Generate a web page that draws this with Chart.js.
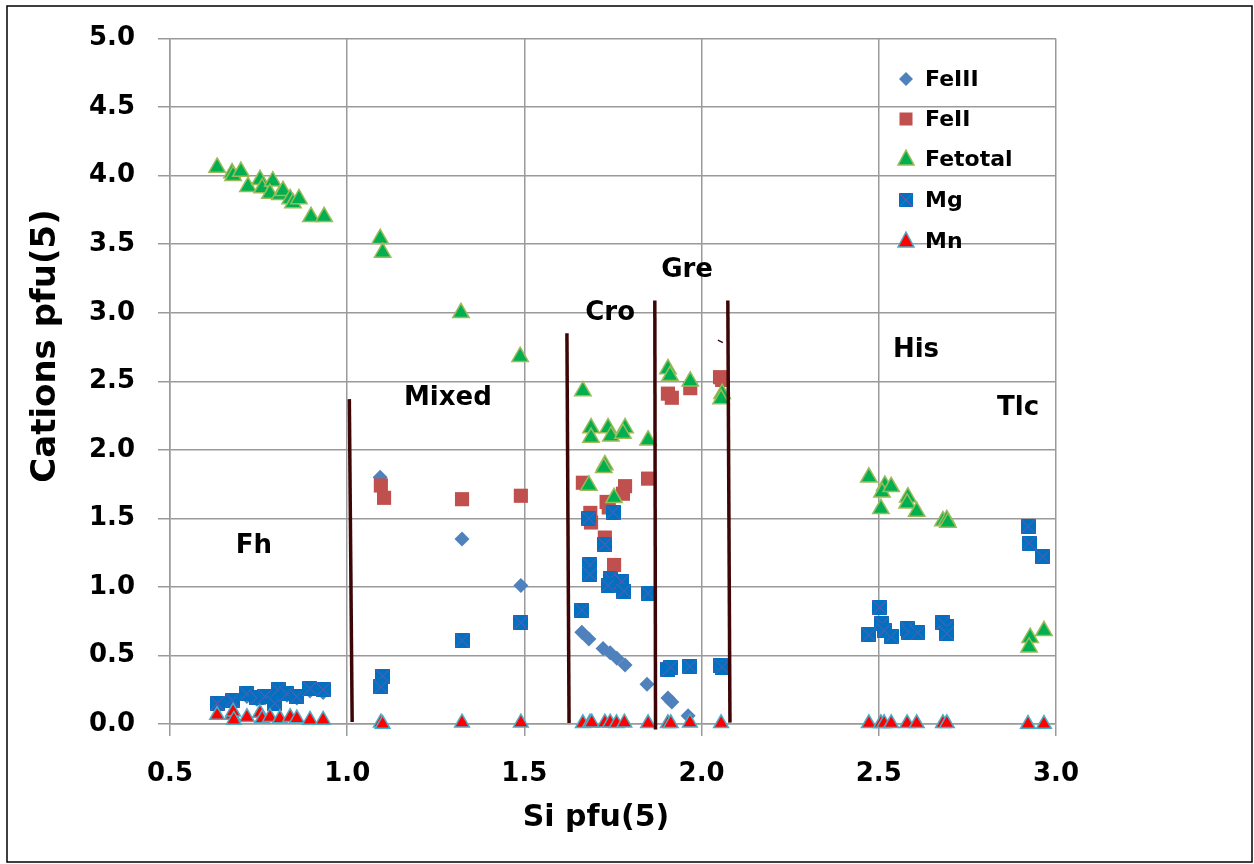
<!DOCTYPE html>
<html>
<head>
<meta charset="utf-8">
<script src="https://cdn.jsdelivr.net/npm/chart.js@4.4.1/dist/chart.umd.min.js"></script>
<style>
  html, body { margin: 0; padding: 0; background: #fff; }
</style>
</head>
<body>
<canvas id="grafico" width="1254" height="864"></canvas>
<script>
// datos (Si pfu en x, cationes pfu en y)
const feIIIx = [0.633, 0.675, 0.717, 0.745, 0.768, 0.805, 0.83, 0.858, 0.895, 0.932,
  1.093, 1.324, 1.49,
  1.662, 1.682, 1.722, 1.742, 1.761, 1.784, 1.846,
  1.905, 1.916, 1.962];
const feIIIy = [0.14, 0.16, 0.2, 0.18, 0.19, 0.22, 0.21, 0.19, 0.24, 0.23,
  1.8, 1.35, 1.01,
  0.67, 0.62, 0.55, 0.52, 0.48, 0.43, 0.29,
  0.19, 0.16, 0.06];

const feIIx = [1.095, 1.104, 1.324, 1.49,
  1.665, 1.686, 1.688, 1.727, 1.732, 1.738, 1.753, 1.778, 1.784, 1.849,
  1.905, 1.916, 1.968, 2.052, 2.058];
const feIIy = [1.74, 1.65, 1.64, 1.665,
  1.76, 1.54, 1.47, 1.36, 1.62, 1.58, 1.16, 1.68, 1.735, 1.79,
  2.41, 2.38, 2.45, 2.53, 2.51];

const feTotx = [0.633, 0.675, 0.678, 0.7, 0.72, 0.754, 0.76, 0.79, 0.782, 0.81, 0.819, 0.839, 0.847, 0.864, 0.898, 0.935,
  1.093, 1.1, 1.321, 1.488,
  1.665, 1.688, 1.688, 1.736, 1.744, 1.784, 1.778, 1.849, 1.727, 1.724, 1.682, 1.753,
  1.905, 1.911, 1.968, 2.058, 2.055,
  2.472, 2.517, 2.509, 2.535, 2.506, 2.582, 2.58, 2.607, 2.681, 2.692, 2.695,
  2.927, 2.924, 2.966];
const feToty = [4.06, 4.02, 4.0, 4.03, 3.92, 3.97, 3.91, 3.96, 3.87, 3.86, 3.89, 3.83, 3.8, 3.83, 3.7, 3.7,
  3.54, 3.44, 3.0, 2.68,
  2.43, 2.16, 2.09, 2.16, 2.1, 2.16, 2.12, 2.07, 1.89, 1.87, 1.74, 1.65,
  2.59, 2.54, 2.5, 2.41, 2.37,
  1.8, 1.74, 1.69, 1.73, 1.57, 1.655, 1.61, 1.55, 1.48, 1.49, 1.47,
  0.63, 0.56, 0.68];

const mgx = [0.633, 0.675, 0.717, 0.745, 0.768, 0.796, 0.805, 0.83, 0.858, 0.895, 0.932,
  1.1, 1.095, 1.324, 1.49,
  1.682, 1.75, 1.727, 1.685, 1.685, 1.742, 1.736, 1.775, 1.781, 1.849, 1.662,
  1.905, 1.913, 1.967, 2.052, 2.058,
  2.503, 2.509, 2.472, 2.535, 2.515, 2.58, 2.585, 2.61, 2.681, 2.692, 2.692,
  2.921, 2.924, 2.963];
const mgy = [0.15, 0.175, 0.22, 0.19, 0.2, 0.15, 0.25, 0.22, 0.2, 0.26, 0.25,
  0.35, 0.27, 0.61, 0.74,
  1.5, 1.545, 1.31, 1.16, 1.09, 1.06, 1.01, 1.04, 0.97, 0.955, 0.83,
  0.4, 0.415, 0.42, 0.43, 0.415,
  0.85, 0.73, 0.65, 0.64, 0.68, 0.7, 0.67, 0.665, 0.74, 0.71, 0.66,
  1.44, 1.32, 1.22];

const mnx = [0.633, 0.675, 0.678, 0.68, 0.717, 0.754, 0.76, 0.782, 0.81, 0.839, 0.858, 0.895, 0.932,
  1.095, 1.1, 1.324, 1.49,
  1.665, 1.685, 1.69, 1.727, 1.742, 1.76, 1.782, 1.849,
  1.905, 1.913, 1.967, 2.055,
  2.472, 2.506, 2.515, 2.535, 2.58, 2.607, 2.681, 2.692,
  2.921, 2.966];
const mny = [0.065, 0.065, 0.09, 0.03, 0.05, 0.08, 0.04, 0.05, 0.04, 0.05, 0.04, 0.03, 0.03,
  0.01, 0.0, 0.01, 0.01,
  0.005, 0.01, 0.01, 0.01, 0.01, 0.005, 0.01, 0.005,
  0.005, 0.005, 0.01, 0.005,
  0.005, 0.005, 0.005, 0.005, 0.005, 0.005, 0.005, 0.005,
  0.0, 0.0];

// líneas que separan las zonas
const limTopX = [1.006, 1.62, 1.868, 2.074];
const limTopY = [2.37, 2.85, 3.09, 3.09];
const limBotX = [1.014, 1.626, 1.87, 2.08];
const limBotY = [0.015, 0.007, -0.04, 0.01];
// trazo pequeño junto a Gre
const trazoX = [2.046, 2.06];
const trazoY = [2.8, 2.782];

// etiquetas de zona
const zonas = ["Fh", "Mixed", "Cro", "Gre", "His", "Tlc"];
const zonaX = [0.737, 1.284, 1.742, 1.959, 2.605, 2.893];
const zonaY = [1.3, 2.376, 3.0, 3.31, 2.726, 2.303];

const xTicks = [0.5, 1.0, 1.5, 2.0, 2.5, 3.0];
const yTicks = [0, 0.5, 1, 1.5, 2, 2.5, 3, 3.5, 4, 4.5, 5];

const serieNombres = ["FeIII", "FeII", "Fetotal", "Mg", "Mn"];

function pares(xs, ys) {
  return xs.map((x, i) => ({ x: x, y: ys[i] }));
}

function marcadorMg(lado) {
  const c = document.createElement("canvas");
  c.width = lado;
  c.height = lado;
  const g = c.getContext("2d");
  g.fillStyle = "#0070C0";
  g.fillRect(0, 0, lado, lado);
  g.strokeStyle = "#7B55AE";
  g.lineWidth = 1;
  g.beginPath();
  g.moveTo(0, 0);
  g.lineTo(lado, lado);
  g.moveTo(lado, 0);
  g.lineTo(0, lado);
  g.stroke();
  return c;
}
const mgImg = marcadorMg(15);
const mgImgLeyenda = marcadorMg(14);

const fuente = "'DejaVu Sans'";

const extras = {
  id: "extras",
  afterDraw(chart) {
    const ctx = chart.ctx;
    const sx = chart.scales.x;
    const sy = chart.scales.y;
    ctx.save();
    ctx.fillStyle = "#000";
    ctx.textAlign = "center";
    ctx.textBaseline = "middle";
    ctx.font = "bold 26px " + fuente;
    zonas.forEach((z, i) => {
      ctx.fillText(z, sx.getPixelForValue(zonaX[i]), sy.getPixelForValue(zonaY[i]));
    });

    // títulos de los ejes
    ctx.font = "bold 30px " + fuente;
    ctx.fillText("Si pfu(5)", 596, 818);
    ctx.save();
    ctx.translate(46, 346);
    ctx.rotate(-Math.PI / 2);
    ctx.font = "bold 34px " + fuente;
    ctx.fillText("Cations pfu(5)", 0, 0);
    ctx.restore();

    // leyenda
    const filas = [79, 119, 159, 200, 241];
    const mx = 906;
    ctx.font = "bold 22px " + fuente;
    ctx.textAlign = "left";
    filas.forEach((fy, i) => {
      ctx.beginPath();
      if (i === 0) {
        ctx.fillStyle = "#4F81BD";
        ctx.moveTo(mx - 7, fy); ctx.lineTo(mx, fy - 7); ctx.lineTo(mx + 7, fy); ctx.lineTo(mx, fy + 7);
        ctx.closePath(); ctx.fill();
      } else if (i === 1) {
        ctx.fillStyle = "#C0504D";
        ctx.fillRect(mx - 6.5, fy - 6.5, 13, 13);
      } else if (i === 2 || i === 4) {
        ctx.fillStyle = i === 2 ? "#00B050" : "#FF0000";
        ctx.strokeStyle = i === 2 ? "#9BBB59" : "#4BACC6";
        ctx.lineWidth = 1.5;
        ctx.moveTo(mx, fy - 9); ctx.lineTo(mx + 8, fy + 6); ctx.lineTo(mx - 8, fy + 6);
        ctx.closePath(); ctx.fill(); ctx.stroke();
      } else {
        ctx.drawImage(mgImgLeyenda, mx - 7, fy - 7);
      }
      ctx.fillStyle = "#000";
      ctx.fillText(serieNombres[i], 925, fy + 1);
    });

    // marco exterior
    ctx.strokeStyle = "#000";
    ctx.lineWidth = 1.5;
    ctx.strokeRect(7, 6, 1245, 856);
    ctx.restore();
  },
};

const lineas = limTopX.map((x, i) => ({
  data: [{ x: x, y: limTopY[i] }, { x: limBotX[i], y: limBotY[i] }],
  showLine: true,
  pointRadius: 0,
  borderColor: "#3D0606",
  borderWidth: 3.5,
  clip: false,
  order: 0,
}));
lineas.push({
  data: pares(trazoX, trazoY),
  showLine: true,
  pointRadius: 0,
  borderColor: "#3D0606",
  borderWidth: 1.3,
  order: 0,
});

const ctx = document.getElementById("grafico").getContext("2d");
new Chart(ctx, {
  type: "scatter",
  data: {
    datasets: [
      {
        label: "FeIII",
        data: pares(feIIIx, feIIIy),
        pointStyle: "rectRot",
        pointRadius: 7.5,
        backgroundColor: "#4F81BD",
        borderColor: "#4F81BD",
        borderWidth: 0,
        clip: false,
        order: 5,
      },
      {
        label: "FeII",
        data: pares(feIIx, feIIy),
        pointStyle: "rect",
        pointRadius: 10,
        backgroundColor: "#C0504D",
        borderColor: "#C0504D",
        borderWidth: 0,
        clip: false,
        order: 4,
      },
      {
        label: "Fetotal",
        data: pares(feTotx, feToty),
        pointStyle: "triangle",
        pointRadius: 9.5,
        backgroundColor: "#00B050",
        borderColor: "#9BBB59",
        borderWidth: 1.5,
        clip: false,
        order: 3,
      },
      {
        label: "Mg",
        data: pares(mgx, mgy),
        pointStyle: mgImg,
        pointRadius: 8,
        clip: false,
        order: 2,
      },
      {
        label: "Mn",
        data: pares(mnx, mny),
        pointStyle: "triangle",
        pointRadius: 8.5,
        backgroundColor: "#FF0000",
        borderColor: "#4BACC6",
        borderWidth: 1.5,
        clip: false,
        order: 1,
      },
      ...lineas,
    ],
  },
  options: {
    responsive: false,
    animation: false,
    devicePixelRatio: 1,
    layout: { padding: { left: 0, top: 38, right: 198, bottom: 0 } },
    plugins: {
      legend: { display: false },
      tooltip: { enabled: false },
    },
    scales: {
      x: {
        type: "linear",
        min: 0.5,
        max: 3.0,
        afterBuildTicks: (s) => { s.ticks = xTicks.map((v) => ({ value: v })); },
        afterFit: (s) => { s.height = 140; },
        ticks: {
          color: "#000",
          font: { family: "DejaVu Sans", size: 26, weight: "bold" },
          padding: 23,
          maxRotation: 0,
          callback: (v) => v.toFixed(1),
        },
        grid: { color: "#9a9a9a", lineWidth: 1.5, tickLength: 12 },
        border: { color: "#9a9a9a", width: 1.5 },
      },
      y: {
        type: "linear",
        min: 0,
        max: 5,
        afterBuildTicks: (s) => { s.ticks = yTicks.map((v) => ({ value: v })); },
        afterFit: (s) => { s.width = 170; },
        ticks: {
          color: "#000",
          font: { family: "DejaVu Sans", size: 26, weight: "bold" },
          padding: 23,
          callback: (v) => v.toFixed(1),
        },
        grid: { color: "#9a9a9a", lineWidth: 1.5, tickLength: 12 },
        border: { color: "#9a9a9a", width: 1.5 },
      },
    },
  },
  plugins: [extras],
});
</script>
</body>
</html>
